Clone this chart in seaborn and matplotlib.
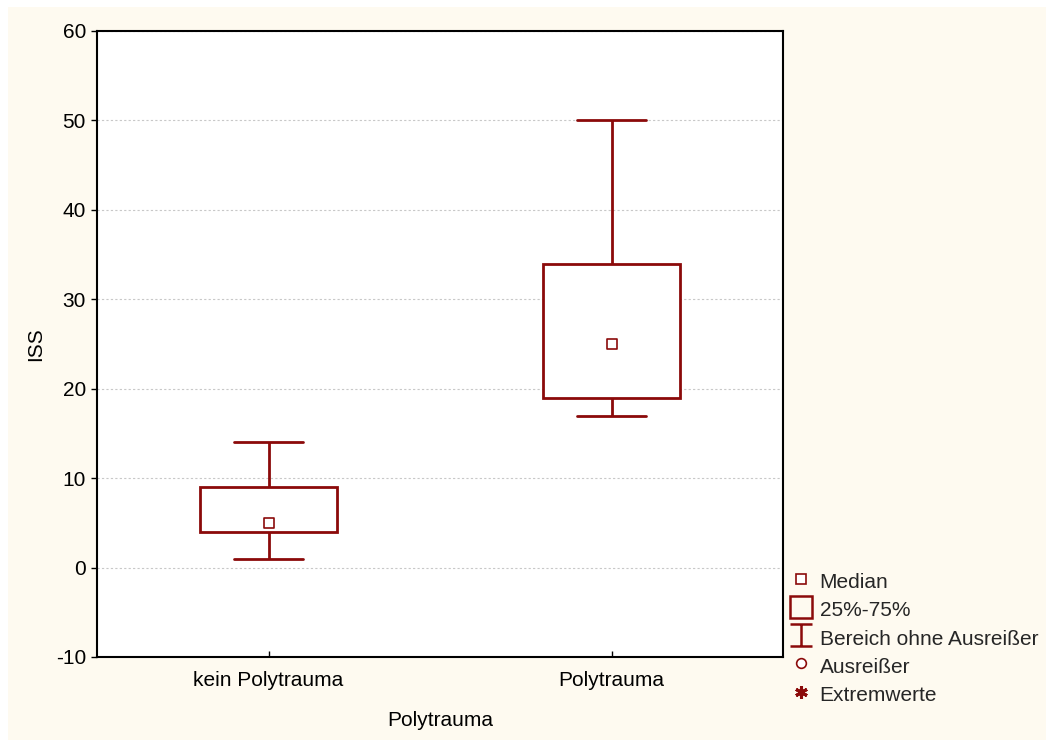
import matplotlib
matplotlib.use("Agg")
import matplotlib.pyplot as plt
import seaborn as sns
import pandas as pd
import numpy as np
from matplotlib.lines import Line2D
from matplotlib.path import Path
from matplotlib.patches import Rectangle

# ---- data (five-number summaries) ----
categories = ["kein Polytrauma", "Polytrauma"]
mins = [1, 17]
q1s = [4, 19]
medians = [5, 25]
q3s = [9, 34]
maxs = [14, 50]

yticks = [-10, 0, 10, 20, 30, 40, 50, 60]
legend_labels = ["Median", "25%-75%", "Bereich ohne Ausreißer", "Ausreißer", "Extremwerte"]

rows = []
for c, a, b, m, d, e in zip(categories, mins, q1s, medians, q3s, maxs):
    for v in (a, b, m, d, e):
        rows.append({"Polytrauma": c, "ISS": v})
df = pd.DataFrame(rows)
med_df = pd.DataFrame({"Polytrauma": categories, "ISS": medians})

sns.set_theme(style="white")
plt.rcParams['font.family'] = ['Liberation Sans', 'DejaVu Sans']

RED = "#8B0A0A"
CREAM = "#FEFAF0"
FS = 15

fig = plt.figure(figsize=(10.46, 7.40), dpi=100, facecolor="white")
fig.patches.append(Rectangle((8/1046, 0), 1, 1 - 7/740, transform=fig.transFigure,
                             facecolor=CREAM, edgecolor="none", zorder=-10))
ax = fig.add_axes([97/1046, 1 - 657/740, (783-97)/1046, (657-31)/740])
ax.set_facecolor("white")

sns.boxplot(data=df, x="Polytrauma", y="ISS", order=categories, width=0.4, whis=1.5,
            showfliers=False, ax=ax, zorder=3,
            boxprops=dict(facecolor="white", edgecolor=RED, linewidth=2.0),
            whiskerprops=dict(color=RED, linewidth=2.0),
            capprops=dict(color=RED, linewidth=2.0),
            medianprops=dict(linestyle="none", linewidth=0))
sns.scatterplot(data=med_df, x="Polytrauma", y="ISS", marker="s", s=50,
                facecolor="white", edgecolor=RED, linewidth=1.2, ax=ax, zorder=5)

ax.set_xlim(-0.5, 1.5)
ax.set_ylim(-10, 60)
ax.set_yticks(yticks)
ax.set_yticklabels([str(t) for t in yticks])
ax.yaxis.grid(True, linestyle=(0, (2, 2)), color="#C8C8C8", linewidth=0.8)
ax.set_axisbelow(True)
for s in ax.spines.values():
    s.set_visible(True)
    s.set_color("black")
    s.set_linewidth(1.5)
ax.tick_params(axis="y", direction="out", length=4, width=1, left=True, labelsize=FS, colors="black", pad=4)
ax.tick_params(axis="x", direction="in", length=4, width=1, bottom=True, labelsize=FS, colors="black", pad=10)
ax.set_xlabel("Polytrauma", fontsize=FS, color="black")
ax.set_ylabel("ISS", fontsize=FS, color="black")
ax.xaxis.set_label_coords(0.5, (657 - 711) / 626)
ax.yaxis.set_label_coords((45 - 97) / 686, 0.5)

# legend
ibeam = Path([(-1, 1), (1, 1), (0, 1), (0, -1), (-1, -1), (1, -1)],
             [Path.MOVETO, Path.LINETO, Path.MOVETO, Path.LINETO, Path.MOVETO, Path.LINETO])
handles = [
    Line2D([], [], linestyle="none", marker="s", markersize=7.5, markerfacecolor="white",
           markeredgecolor=RED, markeredgewidth=1.2),
    Line2D([], [], linestyle="none", marker="s", markersize=15.5, markerfacecolor="none",
           markeredgecolor=RED, markeredgewidth=1.8),
    Line2D([], [], linestyle="none", marker=ibeam, markersize=15.5, markerfacecolor="none",
           markeredgecolor=RED, markeredgewidth=1.8),
    Line2D([], [], linestyle="none", marker="o", markersize=7, markerfacecolor="white",
           markeredgecolor=RED, markeredgewidth=1.2),
    Line2D([], [], linestyle="none", marker=(6, 2, 0), markersize=9, markerfacecolor=RED,
           markeredgecolor=RED, markeredgewidth=2.2),
]
fig.legend(handles, legend_labels, loc="lower left", bbox_to_anchor=(791/1046, 1 - 706/740),
           bbox_transform=fig.transFigure, frameon=False, fontsize=FS, handlelength=0.95,
           handleheight=1.37, handletextpad=0.42, labelspacing=0.22, borderaxespad=0,
           borderpad=0.0)

fig.savefig("out.png", dpi=100, facecolor=fig.get_facecolor())
